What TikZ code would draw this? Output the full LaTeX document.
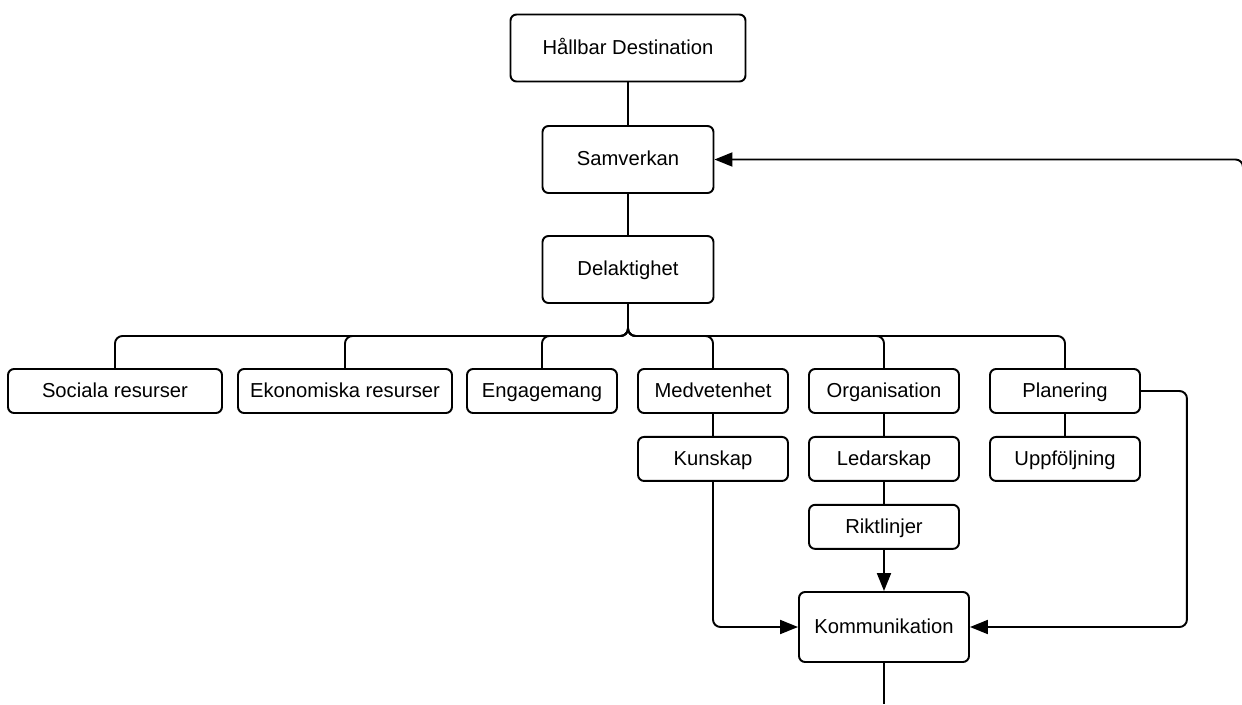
\documentclass[tikz,border=0pt]{standalone}
\usepackage{fontspec}
\setmainfont{Liberation Sans}
\usetikzlibrary{positioning}
\usetikzlibrary{arrows.meta}
\tikzstyle{box}=[draw, rounded corners=1.2mm, line width=1.1pt, fill=white, inner sep=1mm, text height=1.38ex, text depth=0pt, font=\fontsize{11.5}{14}\selectfont]
\tikzstyle{bigbox}=[box, minimum width=3.42cm, minimum height=1.34cm]
\tikzstyle{smallbox}=[box, minimum width=3cm, minimum height=0.88cm]
\tikzstyle{link}=[line width=1.1pt, rounded corners=1.5mm]
\tikzstyle{arrow}=[link, -{Triangle[length=3.6mm, width=2.8mm]}]

\begin{document}
\begin{tikzpicture}[x=0.02cm, y=-0.02cm]
            \useasboundingbox (0,0) rectangle (1242,704);

            \node[box, minimum width=4.7cm, minimum height=1.34cm] (hd) at (628,48) {Hållbar Destination};
            \node[bigbox] (samv) at (628,159.5) {Samverkan};
            \node[bigbox] (delak) at (628,269.5) {Delaktighet};

            \node[smallbox, minimum width=4.28cm] (soc) at (115,391) {Sociala resurser};
            \node[smallbox, minimum width=4.28cm] (eko) at (345,391) {Ekonomiska resurser};
            \node[smallbox] (eng) at (542,391) {Engagemang};
            \node[smallbox] (medv) at (713,391) {Medvetenhet};
            \node[smallbox] (org) at (884,391) {Organisation};
            \node[smallbox] (plan) at (1065,391) {Planering};
            \node[smallbox, below=0.44cm of medv] (kun) {Kunskap};
            \node[smallbox, below=0.44cm of org] (led) {Ledarskap};
            \node[smallbox, below=0.44cm of plan] (upp) {Uppföljning};
            \node[smallbox, below=0.44cm of led] (rikt) {Riktlinjer};
            \node[box, minimum width=3.4cm, minimum height=1.4cm] (komm) at (884,627) {Kommunikation};

            \coordinate (bus) at (628,336);
            \coordinate (loopr) at (1243,172);
            \coordinate (loopb) at (884,704);

            \draw[link] (hd) -- (samv);
            \draw[link] (samv) -- (delak);
            \foreach \n in {soc,eko,eng,medv,org,plan}
                \draw[link] (delak.south) -- (delak.south |- bus) -| (\n.north);

            \draw[link] (medv) -- (kun);
            \draw[link] (org) -- (led);
            \draw[link] (led) -- (rikt);
            \draw[link] (plan) -- (upp);

            \draw[arrow] (rikt.south) -- (komm.north);
            \draw[arrow] (kun.south) |- (komm.west);
            \draw[arrow] (plan.east) -- ++(46,0) |- (komm.east);
            \draw[link] (komm.south) -- (loopb);
            \draw[arrow] (loopr) |- (samv.east);
        \end{tikzpicture}
\end{document}
